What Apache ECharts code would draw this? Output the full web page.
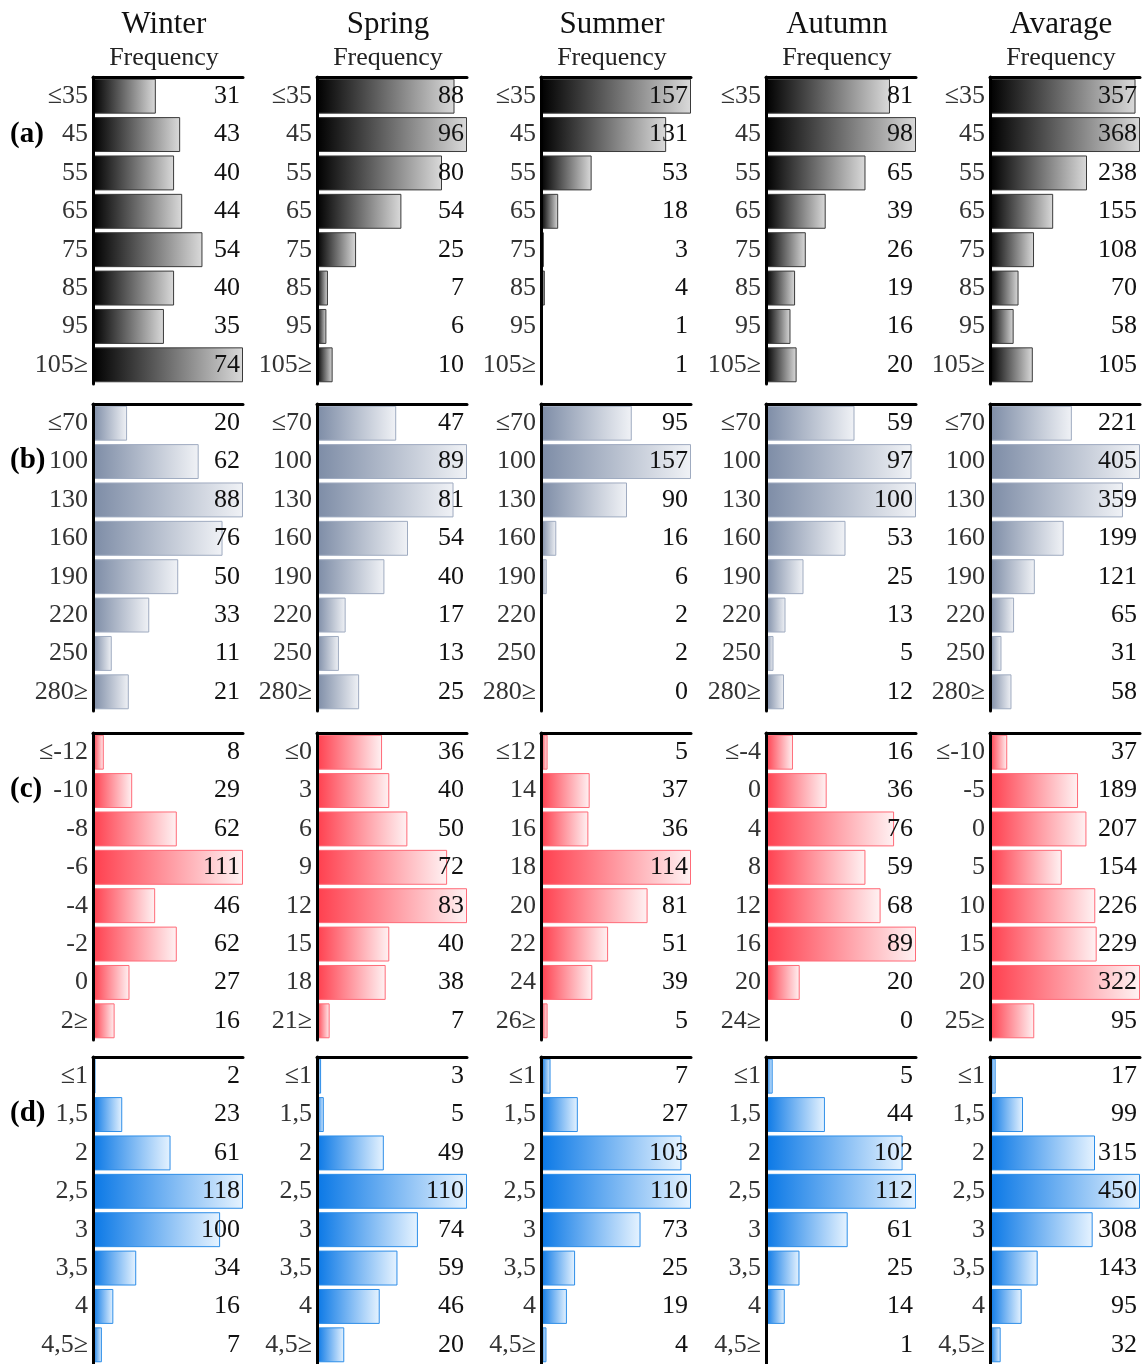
<!DOCTYPE html>
<html>
<head>
<meta charset="utf-8">
<script src="https://cdn.jsdelivr.net/npm/echarts@6/dist/echarts.min.js"></script>
<style>html,body{margin:0;padding:0;background:#fff;}#c{width:1145px;height:1364px;}</style>
</head>
<body>
<div id="c"></div>
<script>
// Column headers
const seasons = ['Winter', 'Spring', 'Summer', 'Autumn', 'Avarage'];
const subTitle = 'Frequency';
const rowLabels = ['(a)', '(b)', '(c)', '(d)'];

// Category (tick) labels
const catsA = ['≤35', '45', '55', '65', '75', '85', '95', '105≥'];
const catsB = ['≤70', '100', '130', '160', '190', '220', '250', '280≥'];
const catsCWinter = ['≤-12', '-10', '-8', '-6', '-4', '-2', '0', '2≥'];
const catsCSpring = ['≤0', '3', '6', '9', '12', '15', '18', '21≥'];
const catsCSummer = ['≤12', '14', '16', '18', '20', '22', '24', '26≥'];
const catsCAutumn = ['≤-4', '0', '4', '8', '12', '16', '20', '24≥'];
const catsCAvarage = ['≤-10', '-5', '0', '5', '10', '15', '20', '25≥'];
const catsD = ['≤1', '1,5', '2', '2,5', '3', '3,5', '4', '4,5≥'];

// Frequencies, row (a)
const aWinter = [31, 43, 40, 44, 54, 40, 35, 74];
const aSpring = [88, 96, 80, 54, 25, 7, 6, 10];
const aSummer = [157, 131, 53, 18, 3, 4, 1, 1];
const aAutumn = [81, 98, 65, 39, 26, 19, 16, 20];
const aAvarage = [357, 368, 238, 155, 108, 70, 58, 105];
// row (b)
const bWinter = [20, 62, 88, 76, 50, 33, 11, 21];
const bSpring = [47, 89, 81, 54, 40, 17, 13, 25];
const bSummer = [95, 157, 90, 16, 6, 2, 2, 0];
const bAutumn = [59, 97, 100, 53, 25, 13, 5, 12];
const bAvarage = [221, 405, 359, 199, 121, 65, 31, 58];
// row (c)
const cWinter = [8, 29, 62, 111, 46, 62, 27, 16];
const cSpring = [36, 40, 50, 72, 83, 40, 38, 7];
const cSummer = [5, 37, 36, 114, 81, 51, 39, 5];
const cAutumn = [16, 36, 76, 59, 68, 89, 20, 0];
const cAvarage = [37, 189, 207, 154, 226, 229, 322, 95];
// row (d)
const dWinter = [2, 23, 61, 118, 100, 34, 16, 7];
const dSpring = [3, 5, 49, 110, 74, 59, 46, 20];
const dSummer = [7, 27, 103, 110, 73, 25, 19, 4];
const dAutumn = [5, 44, 102, 112, 61, 25, 14, 1];
const dAvarage = [17, 99, 315, 450, 308, 143, 95, 32];

const rowCats = [
  [catsA, catsA, catsA, catsA, catsA],
  [catsB, catsB, catsB, catsB, catsB],
  [catsCWinter, catsCSpring, catsCSummer, catsCAutumn, catsCAvarage],
  [catsD, catsD, catsD, catsD, catsD]
];
const rowVals = [
  [aWinter, aSpring, aSummer, aAutumn, aAvarage],
  [bWinter, bSpring, bSummer, bAutumn, bAvarage],
  [cWinter, cSpring, cSummer, cAutumn, cAvarage],
  [dWinter, dSpring, dSummer, dAutumn, dAvarage]
];

// styling (not data)
const FONT = "'Liberation Serif','Times New Roman',serif";
const colX = [93, 317, 541, 766, 990];
const panelW = 150;
const rowTop = [77, 404, 733, 1057];
const panelH = 307;
const rowStyles = [
  {c0: '#000000', c1: '#dadada', border: '#3a3a3a'},
  {c0: '#7d8ca6', c1: '#f0f2f6', border: '#9fabc0'},
  {c0: '#ff3f4e', c1: '#fff2f3', border: '#ff6b78'},
  {c0: '#0a78e6', c1: '#e6f3ff', border: '#2e8ee8'}
];

const grid = [], xAxis = [], yAxis = [], series = [], graphic = [];
let gi = 0;
for (let r = 0; r < 4; r++) {
  for (let c = 0; c < 5; c++) {
    const vals = rowVals[r][c];
    const cats = rowCats[r][c];
    const st = rowStyles[r];
    grid.push({left: colX[c], top: rowTop[r], width: panelW, height: panelH, containLabel: false});
    xAxis.push({
      type: 'value', gridIndex: gi, position: 'top', min: 0, max: Math.max(...vals),
      axisLine: {show: true, onZero: false, lineStyle: {color: '#000', width: 3}},
      axisTick: {show: false}, axisLabel: {show: false}, splitLine: {show: false}, z: 4
    });
    yAxis.push({
      type: 'category', gridIndex: gi, data: cats, inverse: true, position: 'left',
      axisLine: {show: true, lineStyle: {color: '#000', width: 3}},
      axisTick: {show: false}, z: 4,
      axisLabel: {fontFamily: FONT, fontSize: 26, color: '#333', margin: 5}
    });
    yAxis.push({
      type: 'category', gridIndex: gi, data: vals.map(String), inverse: true, position: 'right',
      axisLine: {show: false}, axisTick: {show: false}, z: 6,
      axisLabel: {inside: true, fontFamily: FONT, fontSize: 26, color: '#111', margin: 3}
    });
    series.push({
      type: 'bar', xAxisIndex: gi, yAxisIndex: 2 * gi, data: vals,
      barCategoryGap: '9%', silent: true, z: 2, barMinHeight: 0,
      itemStyle: {
        color: {type: 'linear', x: 0, y: 0, x2: 1, y2: 0, colorStops: [
          {offset: 0, color: st.c0}, {offset: 1, color: st.c1}]},
        borderColor: st.border, borderWidth: 1
      }
    });
    gi++;
  }
}
for (let c = 0; c < 5; c++) {
  const cx = colX[c] + 71;
  graphic.push({type: 'text', x: cx, y: 25, style: {text: seasons[c], font: '31px ' + FONT, fill: '#111', textAlign: 'center', textVerticalAlign: 'middle'}});
  graphic.push({type: 'text', x: cx, y: 58, style: {text: subTitle, font: '26px ' + FONT, fill: '#222', textAlign: 'center', textVerticalAlign: 'middle'}});
}
const rowLabelY = [135, 461, 790, 1114];
for (let r = 0; r < 4; r++) {
  graphic.push({type: 'text', x: 10, y: rowLabelY[r], style: {text: rowLabels[r], font: 'bold 29px ' + FONT, fill: '#000', textAlign: 'left', textVerticalAlign: 'middle'}});
}

const chart = echarts.init(document.getElementById('c'), null, {renderer: 'canvas'});
chart.setOption({animation: false, backgroundColor: '#fff', grid, xAxis, yAxis, series, graphic});
</script>
</body>
</html>
